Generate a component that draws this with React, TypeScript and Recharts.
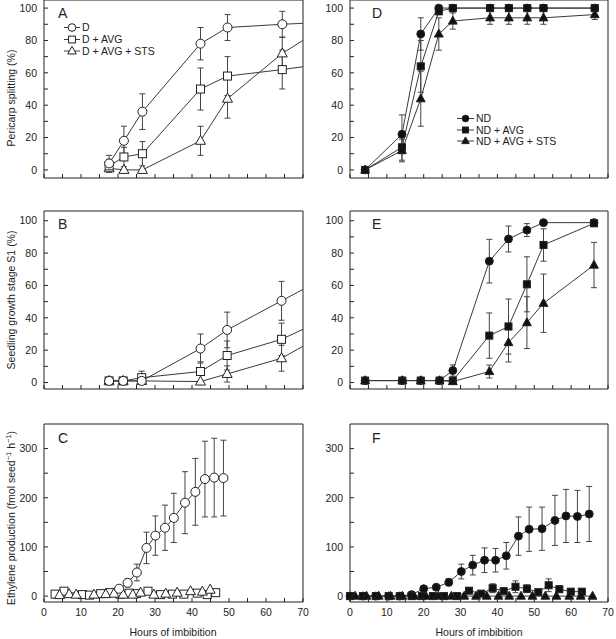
import { LineChart, Line, XAxis, YAxis, ErrorBar, ReferenceArea } from 'recharts';

const FONT = '"Liberation Sans", Arial, Helvetica, sans-serif';
const INK = '#222';
const LINE = '#3a3a3a';

// hours where the A/B lines leave the frame on the right
const EDGE_HOUR = 72;

// A: pericarp splitting (%), dormant seeds
const A_HOURS = [17.6, 21.6, 26.6, 42.3, 49.6, 64.4];
const A_D = [4, 18, 36, 78, 88, 90];
const A_D_ERR = [5, 9, 11, 10, 8, 8];
const A_AVG = [2.5, 8, 10, 50, 58, 62];
const A_AVG_ERR = [4, 6, 7.5, 13, 12, 12];
const A_STS = [1, 0, 0, 18, 44, 72];
const A_STS_ERR = [2, 0, 0, 9, 12, 10];
const A_EDGE = [90.8, 64.4, 82.9];

// B: seedling growth stage S1 (%), dormant seeds
const B_HOURS = [17.6, 21.4, 26.4, 42.3, 49.5, 64.2];
const B_D = [1, 1, 1, 21, 32.5, 50.5];
const B_D_ERR = [0, 0, 0, 9, 11, 12];
const B_AVG = [1, 1, 3, 6.8, 16.7, 26.7];
const B_AVG_ERR = [0, 0, 4, 6, 9, 10];
const B_STS = [1, 1, 1, 0.6, 5.3, 15];
const B_STS_ERR = [0, 0, 0, 0, 5, 8];
const B_EDGE = [60, 35, 25];

// C: ethylene production, dormant seeds
const C_D_HOURS = [20.3, 22.6, 25.1, 27.7, 30.1, 32.7, 35.1, 38.1, 40.9, 43.5, 46, 48.5];
const C_D = [15, 27, 48, 98, 123, 139, 159, 190, 212, 238, 241, 240];
const C_D_ERR = [4, 8, 17, 32, 40, 46, 50, 63, 68, 77, 80, 77];
const C_AVG_HOURS = [3, 5.4, 10.4, 12.3, 15.3, 17.7, 20.5, 23, 25, 28.1, 31.5, 34.7, 37.8, 41.4, 44.1, 46.4];
const C_AVG = [4, 10, 3, 2, 5, 7, 4, 6, 5, 10, 3, 4, 4, 6, 3, 7];
const C_STS_HOURS = [4.2, 6.8, 8.7, 13.5, 16.7, 18.9, 21.4, 24, 26.1, 29.7, 32.9, 36, 39.6, 42.8, 44.9];
const C_STS = [2, 4, 3, 3, 4, 5, 3, 3, 7, 3, 5, 7, 10, 9, 13];

// D: pericarp splitting (%), non-dormant seeds
const D_HOURS = [4.1, 14.1, 19.2, 24.1, 27.9, 38, 43.1, 48.1, 52.5, 66.4];
const D_ND = [0, 22, 84, 100, 100, 100, 100, 100, 100, 100];
const D_ND_ERR = [0, 12, 10, 1, 0, 0, 0, 0, 0, 0];
const D_AVG = [0, 14, 64, 98, 100, 100, 100, 100, 100, 100];
const D_AVG_ERR = [0, 8, 16, 2, 0, 0, 0, 0, 0, 0];
const D_STS = [0, 12, 44, 84, 92, 94, 94, 94, 94, 96];
const D_STS_ERR = [0, 7, 17, 10, 5, 4, 4, 4, 4, 3];

// E: seedling growth stage S1 (%), non-dormant seeds
const E_HOURS = [4.1, 14.2, 19.2, 24.3, 27.9, 37.8, 43, 48, 52.5, 66.2];
const E_ND = [1.2, 1.2, 1.2, 1.2, 7.4, 75, 88.7, 94.2, 98.8, 98.8];
const E_ND_ERR = [0, 0, 0, 0, 3.5, 13.5, 8, 4, 0, 0];
const E_AVG = [1.2, 1.2, 1.2, 1.2, 1.2, 29, 34.6, 60.7, 85, 98.4];
const E_AVG_ERR = [0, 0, 0, 0, 0, 14, 17, 17, 10, 0];
const E_STS = [1.2, 1.2, 1.2, 1.2, 0.6, 6.8, 24.7, 37, 49, 72.6];
const E_STS_ERR = [0, 0, 0, 0, 0, 4, 12, 16, 18, 14];

// F: ethylene production, non-dormant seeds
const F_ND_HOURS = [0, 3.5, 7, 10.5, 13.5, 16.7, 20, 23.4, 26.8, 30.2, 33.3, 36.5, 39.5, 42.4, 45.7, 48.6, 52.1, 55.6, 58.6, 61.7, 64.9];
const F_ND = [0, 0, 0, 0, 0, 3, 15, 18, 28, 50, 63, 73, 73, 82, 122, 136, 137, 154, 163, 162, 167];
const F_ND_ERR = [0, 0, 0, 0, 0, 0, 0, 0, 7, 15, 20, 25, 24, 27, 39, 45, 44, 51, 54, 53, 56];
const F_AVG_HOURS = [0, 3.5, 7, 10.5, 13.5, 16.7, 19.5, 22.5, 25.5, 29, 32.3, 35.6, 38.7, 41.7, 44.9, 48, 51.1, 53.9, 56.8, 59.9, 62.9];
const F_AVG = [0, 0, 0, 0, 0, 0, 0, 0, 0, 0, 11, 5, 16, 10, 19, 15, 8, 22, 14, 9, 9];
const F_AVG_ERR = [0, 0, 0, 0, 0, 0, 0, 0, 0, 0, 3, 2, 9, 3, 12, 8, 3, 13, 6, 3, 3];
const F_STS_HOURS = [1.4, 4.5, 7.8, 11, 14.2, 17.4, 20.6, 24, 27.5, 31, 34.2, 37.1, 40.3, 43.2, 46.4, 49.5, 53, 56, 59.5, 62.6, 65.8];
const F_STS = [0, 0, 0, 0, 0, 0, 0, 0, 0, 0, 0, 0, 0, 0, 0, 0, 0, 0, 0, 0, 0];

const X_TICKS = [0, 5, 10, 15, 20, 25, 30, 35, 40, 45, 50, 55, 60, 65, 70];
const PCT_TICKS = [0, 10, 20, 30, 40, 50, 60, 70, 80, 90, 100];
const ETH_TICKS = [0, 50, 100, 150, 200, 250, 300];

const LEGEND_D = ['D', 'D + AVG', 'D + AVG + STS'];
const LEGEND_ND = ['ND', 'ND + AVG', 'ND + AVG + STS'];

type Shape = 'circle' | 'square' | 'triangle';
type Row = { h: number; v: number; e: number };
type Series = { shape: Shape; rows: Row[]; edge?: number };

const zip = (hs: number[], vs: number[], es?: number[]): Row[] =>
  hs.map((h, i) => ({ h, v: vs[i], e: es ? es[i] : 0 }));

function marker(shape: Shape, cx: number, cy: number, filled: boolean, key?: string, s = 1) {
  const style = { fill: filled ? '#111' : '#fff', stroke: INK, strokeWidth: 1 };
  // filled symbols are drawn a touch smaller than the open ones
  const k = (filled ? 0.88 : 1) * s;
  if (shape === 'circle') return <circle key={key} cx={cx} cy={cy} r={4.5 * k} {...style} />;
  if (shape === 'square') return <rect key={key} x={cx - 4 * k} y={cy - 4 * k} width={8 * k} height={8 * k} {...style} />;
  return (
    <path
      key={key}
      d={`M${cx},${cy - 5.5 * k}L${cx + 5 * k},${cy + 3.5 * k}L${cx - 5 * k},${cy + 3.5 * k}Z`}
      {...style}
    />
  );
}

const dotFor = (shape: Shape, filled: boolean) => (p: any) => {
  if (p.cx == null || p.cy == null) return <g key={`n-${p.index}`} />;
  return marker(shape, p.cx, p.cy, filled, `${shape}-${p.index}`);
};

const XTick = ({ x, y, payload, labels }: any) => (
  <g>
    <line x1={x} x2={x} y1={y} y2={y - 4} stroke={INK} />
    {labels && payload.value % 10 === 0 && (
      <text x={x} y={y + 14} textAnchor="middle" fontSize={10.5} fontFamily={FONT} fill={INK}>
        {payload.value}
      </text>
    )}
  </g>
);

const YTick = ({ x, y, payload, major }: any) => (
  <g>
    <line x1={x} x2={x + 4} y1={y} y2={y} stroke={INK} />
    {payload.value % major === 0 && (
      <text x={x - 7} y={y} dy="0.36em" textAnchor="end" fontSize={10.5} fontFamily={FONT} fill={INK}>
        {payload.value}
      </text>
    )}
  </g>
);

interface PanelProps {
  col: 0 | 1;
  top: number;
  bottom: number;
  series: Series[];
  filled: boolean;
  yDomain: [number, number];
  yTicks: number[];
  yMajor: number;
  xLabels: boolean;
  letter: string;
  letterY: number;
  children?: React.ReactNode;
}

function Panel({ col, top, bottom, series, filled, yDomain, yTicks, yMajor, xLabels, letter, letterY, children }: PanelProps) {
  const margin = {
    top,
    bottom: 639 - bottom - 30,
    left: col === 0 ? 0 : 306,
    right: col === 0 ? 313 : 8,
  };
  return (
    <div style={{ position: 'absolute', left: 0, top: 0 }}>
      <LineChart width={616} height={639} margin={margin}>
        <XAxis
          type="number"
          dataKey="h"
          domain={[0, 70]}
          ticks={X_TICKS}
          interval={0}
          height={30}
          axisLine={false}
          tickLine={false}
          tickSize={0}
          tickMargin={0}
          tick={(p: any) => <XTick {...p} labels={xLabels} />}
        />
        <XAxis xAxisId="clip" type="number" dataKey="h" domain={[0, 70]} allowDataOverflow hide />
        <YAxis
          type="number"
          domain={yDomain}
          ticks={yTicks}
          interval={0}
          width={44}
          axisLine={false}
          tickLine={false}
          tickSize={0}
          tickMargin={0}
          tick={(p: any) => <YTick {...p} major={yMajor} />}
        />
        <ReferenceArea x1={0} x2={70} y1={yDomain[0]} y2={yDomain[1]} fill="none" stroke={INK} strokeWidth={1} />
        {series
          .filter((s) => s.edge != null)
          .map((s, i) => {
            const last = s.rows[s.rows.length - 1];
            return (
              <Line
                key={`edge-${i}`}
                xAxisId="clip"
                data={[{ h: last.h, v: last.v }, { h: EDGE_HOUR, v: s.edge }]}
                dataKey="v"
                stroke={LINE}
                strokeWidth={1}
                dot={false}
                activeDot={false}
                isAnimationActive={false}
              />
            );
          })}
        {series.map((s, i) => (
          <Line
            key={`s-${i}`}
            data={s.rows}
            dataKey="v"
            type="linear"
            stroke={LINE}
            strokeWidth={1}
            dot={dotFor(s.shape, filled)}
            activeDot={false}
            isAnimationActive={false}
          >
            <ErrorBar dataKey="e" direction="y" width={3} stroke="#444" strokeWidth={1} isAnimationActive={false} />
          </Line>
        ))}
        <text x={col === 0 ? 58 : 372} y={letterY} fontSize={14} fontFamily={FONT} fill={INK}>
          {letter}
        </text>
        {children}
      </LineChart>
    </div>
  );
}

function LegendBlock({ labels, filled, x1, x2, mx, tx, ys }: any) {
  const shapes: Shape[] = ['circle', 'square', 'triangle'];
  return (
    <g>
      {labels.map((label: string, i: number) => (
        <g key={label}>
          <line x1={x1} x2={x2} y1={ys[i]} y2={ys[i]} stroke={LINE} />
          {marker(shapes[i], mx, ys[i], filled, undefined, 0.85)}
          <text x={tx} y={ys[i]} dy="0.36em" fontSize={10.5} fontFamily={FONT} fill={INK}>
            {label}
          </text>
        </g>
      ))}
    </g>
  );
}

function YTitle({ cy, children }: { cy: number; children: React.ReactNode }) {
  return (
    <text transform={`translate(15,${cy}) rotate(-90)`} textAnchor="middle" fontSize={10.5} fontFamily={FONT} fill={INK}>
      {children}
    </text>
  );
}

function XTitle({ cx }: { cx: number }) {
  return (
    <text x={cx} y={636} textAnchor="middle" fontSize={10.5} fontFamily={FONT} fill={INK}>
      Hours of imbibition
    </text>
  );
}

export default function App() {
  const aSeries: Series[] = [
    { shape: 'triangle', rows: zip(A_HOURS, A_STS, A_STS_ERR), edge: A_EDGE[2] },
    { shape: 'square', rows: zip(A_HOURS, A_AVG, A_AVG_ERR), edge: A_EDGE[1] },
    { shape: 'circle', rows: zip(A_HOURS, A_D, A_D_ERR), edge: A_EDGE[0] },
  ];
  const bSeries: Series[] = [
    { shape: 'triangle', rows: zip(B_HOURS, B_STS, B_STS_ERR), edge: B_EDGE[2] },
    { shape: 'square', rows: zip(B_HOURS, B_AVG, B_AVG_ERR), edge: B_EDGE[1] },
    { shape: 'circle', rows: zip(B_HOURS, B_D, B_D_ERR), edge: B_EDGE[0] },
  ];
  const cSeries: Series[] = [
    { shape: 'square', rows: zip(C_AVG_HOURS, C_AVG) },
    { shape: 'triangle', rows: zip(C_STS_HOURS, C_STS) },
    { shape: 'circle', rows: zip(C_D_HOURS, C_D, C_D_ERR) },
  ];
  const dSeries: Series[] = [
    { shape: 'circle', rows: zip(D_HOURS, D_ND, D_ND_ERR) },
    { shape: 'square', rows: zip(D_HOURS, D_AVG, D_AVG_ERR) },
    { shape: 'triangle', rows: zip(D_HOURS, D_STS, D_STS_ERR) },
  ];
  const eSeries: Series[] = [
    { shape: 'circle', rows: zip(E_HOURS, E_ND, E_ND_ERR) },
    { shape: 'square', rows: zip(E_HOURS, E_AVG, E_AVG_ERR) },
    { shape: 'triangle', rows: zip(E_HOURS, E_STS, E_STS_ERR) },
  ];
  const fSeries: Series[] = [
    { shape: 'circle', rows: zip(F_ND_HOURS, F_ND, F_ND_ERR) },
    { shape: 'square', rows: zip(F_AVG_HOURS, F_AVG, F_AVG_ERR) },
    { shape: 'triangle', rows: zip(F_STS_HOURS, F_STS) },
  ];

  return (
    <div style={{ position: 'absolute', left: 0, top: 0, width: 616, height: 639, background: '#fff' }}>
      <Panel col={0} top={0} bottom={178} series={aSeries} filled={false} yDomain={[-5, 105]} yTicks={PCT_TICKS} yMajor={20} xLabels={false} letter="A" letterY={18}>
        <LegendBlock labels={LEGEND_D} filled={false} x1={64} x2={80} mx={72} tx={82} ys={[27.5, 39.5, 51]} />
        <YTitle cy={98}>Pericarp splitting (%)</YTitle>
      </Panel>
      <Panel col={0} top={211} bottom={389} series={bSeries} filled={false} yDomain={[-4, 106]} yTicks={PCT_TICKS} yMajor={20} xLabels={false} letter="B" letterY={229}>
        <YTitle cy={300}>Seedling growth stage S1 (%)</YTitle>
      </Panel>
      <Panel col={0} top={424} bottom={602} series={cSeries} filled={false} yDomain={[-12, 350]} yTicks={ETH_TICKS} yMajor={100} xLabels letter="C" letterY={443}>
        <YTitle cy={518}>
          Ethylene production (fmol seed
          <tspan dy={-4} fontSize={7.5}>−1</tspan>
          <tspan dy={4}> h</tspan>
          <tspan dy={-4} fontSize={7.5}>−1</tspan>
          <tspan dy={4}>)</tspan>
        </YTitle>
        <XTitle cx={173} />
      </Panel>
      <Panel col={1} top={0} bottom={178} series={dSeries} filled yDomain={[-5, 105]} yTicks={PCT_TICKS} yMajor={20} xLabels={false} letter="D" letterY={18}>
        <LegendBlock labels={LEGEND_ND} filled x1={457} x2={474} mx={465.5} tx={476} ys={[118.5, 130, 141]} />
      </Panel>
      <Panel col={1} top={211} bottom={389} series={eSeries} filled yDomain={[-4, 106]} yTicks={PCT_TICKS} yMajor={20} xLabels={false} letter="E" letterY={229} />
      <Panel col={1} top={424} bottom={602} series={fSeries} filled yDomain={[-12, 350]} yTicks={ETH_TICKS} yMajor={100} xLabels letter="F" letterY={443}>
        <XTitle cx={479} />
      </Panel>
    </div>
  );
}
